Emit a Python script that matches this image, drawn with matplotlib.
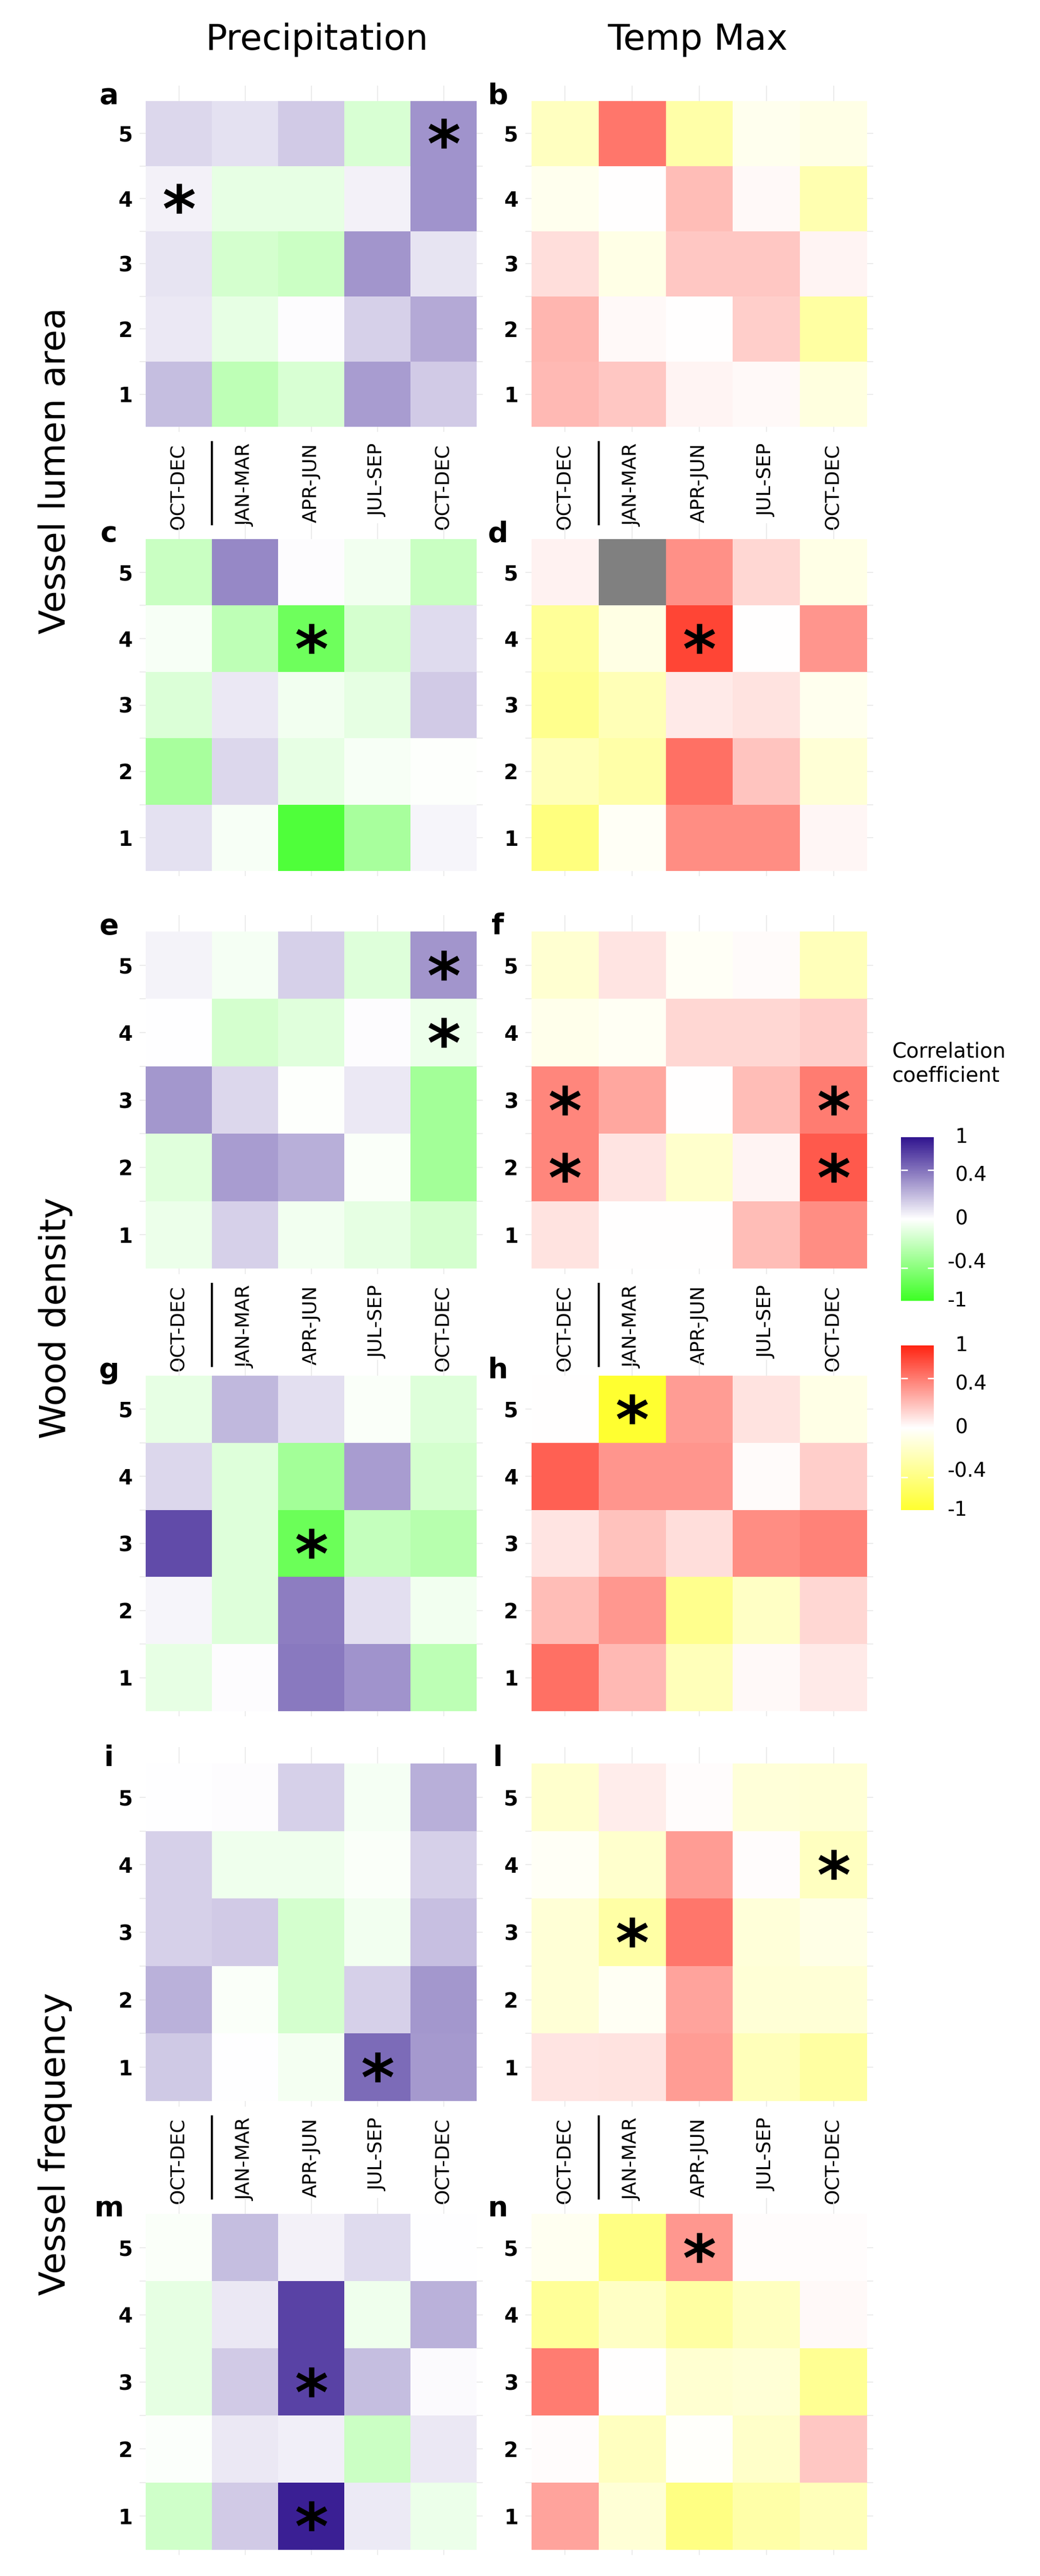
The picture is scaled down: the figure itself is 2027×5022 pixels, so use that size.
import numpy as np
import matplotlib
matplotlib.use("Agg")
import matplotlib.pyplot as plt
from matplotlib.colors import LinearSegmentedColormap, Normalize
from matplotlib.lines import Line2D
from matplotlib import font_manager
import matplotlib.cm as cm

# 그림 크기 (픽셀)
W, H = 2027, 5022
DPI = 100

seasons = ["OCT-DEC", "JAN-MAR", "APR-JUN", "JUL-SEP", "OCT-DEC"]
classes = [1, 2, 3, 4, 5]
nan = np.nan

# correlation values, rows from class 5 (top) to class 1 (bottom)
prec_a = [[0.17, 0.13, 0.22, -0.20, 0.46],
          [0.06, -0.12, -0.12, 0.06, 0.46],
          [0.11, -0.22, -0.27, 0.45, 0.11],
          [0.10, -0.12, 0.01, 0.20, 0.36],
          [0.28, -0.33, -0.20, 0.42, 0.22]]
temp_b = [[-0.30, 0.62, -0.42, -0.08, -0.12],
          [-0.08, 0.00, 0.30, 0.03, -0.38],
          [0.15, -0.12, 0.25, 0.25, 0.05],
          [0.33, 0.03, 0.00, 0.22, -0.45],
          [0.32, 0.25, 0.05, 0.03, -0.15]]
prec_c = [[-0.28, 0.50, 0.01, -0.07, -0.28],
          [-0.04, -0.33, -0.75, -0.22, 0.15],
          [-0.18, 0.10, -0.07, -0.13, 0.22],
          [-0.45, 0.17, -0.12, -0.04, -0.01],
          [0.13, -0.04, -0.90, -0.45, 0.04]]
temp_d = [[0.06, nan, 0.50, 0.18, -0.12],
          [-0.50, -0.13, 0.85, 0.00, 0.48],
          [-0.55, -0.35, 0.10, 0.13, -0.08],
          [-0.33, -0.42, 0.65, 0.27, -0.20],
          [-0.62, -0.04, 0.52, 0.52, 0.04]]
prec_e = [[0.05, -0.05, 0.20, -0.17, 0.45],
          [0.00, -0.22, -0.16, 0.01, -0.10],
          [0.44, 0.17, -0.01, 0.10, -0.47],
          [-0.16, 0.42, 0.34, -0.03, -0.47],
          [-0.10, 0.20, -0.07, -0.13, -0.22]]
temp_f = [[-0.22, 0.12, -0.04, 0.02, -0.33],
          [-0.10, -0.05, 0.18, 0.18, 0.22],
          [0.55, 0.40, 0.00, 0.30, 0.60],
          [0.55, 0.12, -0.25, 0.05, 0.75],
          [0.13, 0.00, 0.00, 0.30, 0.52]]
prec_g = [[-0.12, 0.30, 0.14, -0.03, -0.17],
          [0.17, -0.17, -0.47, 0.42, -0.22],
          [0.76, -0.17, -0.76, -0.30, -0.37],
          [0.04, -0.17, 0.55, 0.14, -0.07],
          [-0.12, 0.01, 0.57, 0.46, -0.34]]
temp_h = [[0.00, -1.00, 0.45, 0.13, -0.12],
          [0.72, 0.48, 0.48, 0.02, 0.22],
          [0.12, 0.28, 0.15, 0.52, 0.57],
          [0.30, 0.47, -0.55, -0.28, 0.18],
          [0.65, 0.32, -0.33, 0.03, 0.10]]
prec_i = [[0.00, 0.01, 0.20, -0.05, 0.34],
          [0.20, -0.08, -0.08, -0.03, 0.20],
          [0.20, 0.22, -0.22, -0.07, 0.27],
          [0.33, -0.03, -0.22, 0.20, 0.44],
          [0.23, 0.00, -0.06, 0.63, 0.43]]
temp_l = [[-0.24, 0.08, 0.01, -0.18, -0.20],
          [-0.04, -0.24, 0.45, 0.01, -0.30],
          [-0.20, -0.43, 0.62, -0.18, -0.12],
          [-0.20, -0.05, 0.42, -0.20, -0.20],
          [0.12, 0.13, 0.45, -0.33, -0.45]]
prec_m = [[-0.03, 0.28, 0.06, 0.15, 0.00],
          [-0.13, 0.10, 0.80, -0.08, 0.33],
          [-0.13, 0.22, 0.80, 0.28, 0.02],
          [-0.02, 0.10, 0.07, -0.27, 0.10],
          [-0.25, 0.22, 0.95, 0.09, -0.10]]
temp_n = [[-0.07, -0.60, 0.47, 0.01, 0.01],
          [-0.50, -0.28, -0.45, -0.30, 0.03],
          [0.60, 0.00, -0.22, -0.20, -0.52],
          [0.01, -0.30, -0.02, -0.26, 0.25],
          [0.42, -0.20, -0.60, -0.42, -0.33]]

# significant cells: (season position 1-5, class)
stars_a = [(1, 4), (5, 5)]
stars_b = []
stars_c = [(3, 4)]
stars_d = [(3, 4)]
stars_e = [(5, 5), (5, 4)]
stars_f = [(1, 3), (1, 2), (5, 3), (5, 2)]
stars_g = [(3, 3)]
stars_h = [(2, 5)]
stars_i = [(4, 1)]
stars_l = [(5, 4), (2, 3)]
stars_m = [(3, 3), (3, 1)]
stars_n = [(3, 5)]

panel_letters = ["a", "b", "c", "d", "e", "f", "g", "h", "i", "l", "m", "n"]
row_titles = ["Vessel lumen area", "Wood density", "Vessel frequency"]
col_titles = ["Precipitation", "Temp Max"]
cbar_ticks = ["1", "0.4", "0", "-0.4", "-1"]
cbar_tick_pos = [1, 0.53, 0, -0.53, -1]

panels = [(prec_a, stars_a), (temp_b, stars_b), (prec_c, stars_c), (temp_d, stars_d),
          (prec_e, stars_e), (temp_f, stars_f), (prec_g, stars_g), (temp_h, stars_h),
          (prec_i, stars_i), (temp_l, stars_l), (prec_m, stars_m), (temp_n, stars_n)]

# 색상
cmap_prec = LinearSegmentedColormap.from_list("prec", ["#3dff25", "#ffffff", "#30148f"])
cmap_temp = LinearSegmentedColormap.from_list("temp", ["#ffff30", "#ffffff", "#ff2412"])
cmap_prec.set_bad("#808080")
cmap_temp.set_bad("#808080")
norm = Normalize(-1, 1)

# fonts
names = {f.name for f in font_manager.fontManager.ttflist}
if "Liberation Sans Narrow" in names:
    narrow, xt_size = "Liberation Sans Narrow", 34
else:
    narrow, xt_size = "DejaVu Sans", 27
plt.rcParams["font.family"] = ["DejaVu Sans"]

# layout in pixels
row_top = [197, 1051, 1816, 2682, 3438, 4316]
row_bot = [832, 1698, 2473, 3336, 4096, 4971]
col_left = [284, 1036]
col_right = [929, 1690]
ext_l, ext_r, ext_b, ext_t = 0.09, 0.09, 0.08, 0.24


def fbox(x0, y0, x1, y1):
    return [x0 / W, 1 - y1 / H, (x1 - x0) / W, (y1 - y0) / H]


fig = plt.figure(figsize=(W / DPI, H / DPI), dpi=DPI)
fig.patch.set_facecolor("white")

edges = np.arange(0.5, 6.0, 1.0)
for k, (vals, stars) in enumerate(panels):
    r, c = k // 2, k % 2
    tx0, tx1 = col_left[c], col_right[c]
    ty0, ty1 = row_top[r], row_bot[r]
    cw = (tx1 - tx0) / 5
    ch = (ty1 - ty0) / 5
    ax = fig.add_axes(fbox(tx0 - ext_l * cw, ty0 - ext_t * ch, tx1 + ext_r * cw, ty1 + ext_b * ch))
    ax.set_facecolor("none")
    z = np.ma.masked_invalid(np.array(vals, dtype=float)[::-1])
    ax.pcolormesh(edges, edges, z, cmap=cmap_prec if c == 0 else cmap_temp, norm=norm,
                  edgecolors="none", zorder=1)
    for sx, sy in stars:
        ax.scatter(sx, sy, marker=r"$\mathbf{*}$", s=1900, c="black", zorder=3, linewidths=0)
    ax.set_xlim(0.5 - ext_l, 5.5 + ext_r)
    ax.set_ylim(0.5 - ext_b, 5.5 + ext_t)
    ax.set_axisbelow(True)
    ax.set_xticks(range(1, 6))
    ax.set_yticks(classes)
    ax.set_yticks([1.5, 2.5, 3.5, 4.5], minor=True)
    ax.grid(True, which="both", color="#ebebeb", linewidth=1.5)
    ax.grid(False, which="minor", axis="x")
    for s in ax.spines.values():
        s.set_visible(False)
    ax.tick_params(which="both", length=0)
    ax.set_yticklabels([str(v) for v in classes], fontsize=29, fontweight="bold")
    ax.tick_params(axis="y", pad=10)
    if r % 2 == 0:
        ax.set_xticklabels(seasons, rotation=90, fontsize=xt_size, family=narrow)
        ax.tick_params(axis="x", pad=16)
        ## 전년도/당해 구분선
        xs = tx0 + 1.0 * cw
        y0 = ty1 + 30
        y1 = ty1 + 190
        fig.add_artist(Line2D([xs / W, xs / W], [1 - y0 / H, 1 - y1 / H], color="black", linewidth=3))
    else:
        ax.set_xticklabels([])
    lx = 212 if c == 0 else 970
    fig.text(lx / W, 1 - (ty0 + 5) / H, panel_letters[k], fontsize=40, fontweight="bold",
             ha="center", va="baseline")

# 열 제목
fig.text(617 / W, 1 - 97 / H, col_titles[0], fontsize=50, ha="center", va="baseline")
fig.text(1360 / W, 1 - 97 / H, col_titles[1], fontsize=50, ha="center", va="baseline")

# 행 제목
for t, yc in zip(row_titles, [918, 2570, 4180]):
    fig.text(108 / W, 1 - yc / H, t, fontsize=50, rotation=90, ha="center", va="center")

# legend
fig.text(1739 / W, 1 - 2030 / H, "Correlation\ncoefficient", fontsize=29, ha="left", va="top",
         linespacing=1.25)
for cmap, (y0, y1) in zip([cmap_prec, cmap_temp], [(2217, 2536), (2623, 2944)]):
    cax = fig.add_axes(fbox(1756, y0, 1820, y1))
    cb = fig.colorbar(cm.ScalarMappable(norm=norm, cmap=cmap), cax=cax)
    cb.outline.set_visible(False)
    cb.set_ticks([-0.6, 0.6])
    cax.tick_params(direction="in", color="white", width=2, length=9, left=True, right=True,
                    labelright=False, labelleft=False)
    for lab, v in zip(cbar_ticks, cbar_tick_pos):
        yp = y0 + (1 - v) / 2 * (y1 - y0)
        xp = 1846 if lab.startswith("-") else 1862
        fig.text(xp / W, 1 - yp / H, lab, fontsize=28, ha="left", va="center")

fig.savefig("out.png", dpi=DPI, facecolor="white")
